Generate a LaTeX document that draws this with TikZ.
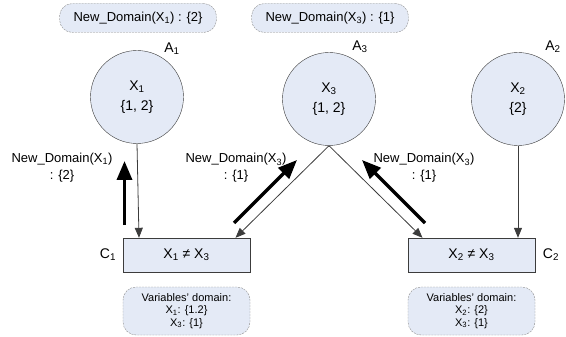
\documentclass[tikz,border=0pt]{standalone}
\usepackage{fontspec}
\setmainfont{Liberation Sans}
\usetikzlibrary{arrows.meta}

\definecolor{nodefill}{RGB}{228,234,246}
\definecolor{edgegray}{RGB}{60,60,60}
\definecolor{notegray}{RGB}{140,140,140}

\newcommand{\sbs}[1]{\textsubscript{#1}}
\newcommand{\fsz}[2]{\fontsize{#1}{#2}\selectfont}

\begin{document}
\begin{tikzpicture}[x=1pt,y=-1pt,
  varnode/.style={circle, draw=edgegray, fill=nodefill, minimum size=93pt,
    inner sep=0pt, align=center, font=\fsz{14}{20}},
  connode/.style={rectangle, draw=edgegray, fill=nodefill, minimum width=127pt,
    minimum height=34pt, inner sep=0pt, font=\fsz{14}{17}},
  topnote/.style={rectangle, rounded corners=13pt, draw=notegray,
    dash pattern=on 2pt off 1pt, fill=nodefill, minimum width=157pt,
    minimum height=29pt, inner sep=0pt, font=\fsz{13}{15}},
  domnote/.style={rectangle, rounded corners=13pt, draw=notegray,
    dash pattern=on 2pt off 1pt, fill=nodefill, minimum width=127pt,
    minimum height=48pt, inner sep=0pt, align=center, font=\fsz{11}{12.5}},
  plain/.style={inner sep=0pt, align=center, font=\fsz{13}{17}},
  tag/.style={inner sep=0pt, font=\fsz{14}{16}},
  thin/.style={draw=edgegray, line width=0.8pt,
    -{Triangle[length=10pt,width=8pt]}},
  thick/.style={draw=black, line width=3.5pt,
    -{Triangle[length=19pt,width=15pt]}}
]
\useasboundingbox (0,0) rectangle (566,337);

% messages at the top
\node[topnote] (m1) at (138,18) {New\_Domain(X\sbs{1}) : \{2\}};
\node[topnote] (m3) at (330,18) {New\_Domain(X\sbs{3}) : \{1\}};

% agents holding the variables
\node[varnode] (X1) at (137,97) {X\sbs{1}\\\{1, 2\}};
\node[varnode] (X3) at (329,99) {X\sbs{3}\\\{1, 2\}};
\node[varnode] (X2) at (518,99) {X\sbs{2}\\\{2\}};
\node[tag] (A1) at (172,49) {A\sbs{1}};
\node[tag] (A3) at (360,47) {A\sbs{3}};
\node[tag] (A2) at (553,47) {A\sbs{2}};

% constraints
\node[connode] (C1) at (186.5,255) {X\sbs{1} ≠ X\sbs{3}};
\node[connode] (C2) at (471.5,255) {X\sbs{2} ≠ X\sbs{3}};
\node[tag] (c1tag) at (108,255) {C\sbs{1}};
\node[tag] (c2tag) at (551,255) {C\sbs{2}};

% domains seen by each constraint
\node[domnote] (d1) at (186.5,311) {Variables' domain:\\X\sbs{1}: \{1.2\}\\X\sbs{3}: \{1\}};
\node[domnote] (d2) at (471.5,311) {Variables' domain:\\X\sbs{2}: \{2\}\\X\sbs{3}: \{1\}};

% variable -> constraint links
\draw[thin] (X1.south) -- ([xshift=-47.5pt]C1.north);
\draw[thin] (X3.south) -- ([xshift=49pt]C1.north);
\draw[thin] (X3.south) -- ([xshift=-49pt]C2.north);
\draw[thin] (X2.south) -- ([xshift=46.5pt]C2.north);

% constraint -> variable messages
\coordinate (p1a) at (124.5,225);
\coordinate (p1b) at (124.5,161);
\coordinate (p2a) at (234,223);
\coordinate (p2b) at (297,160);
\coordinate (p3a) at (425,223);
\coordinate (p3b) at (362,160);
\draw[thick] (p1a) -- (p1b);
\draw[thick] (p2a) -- (p2b);
\draw[thick] (p3a) -- (p3b);

\node[plain] (l1) at (62,168) {New\_Domain(X\sbs{1})\\: \{2\}};
\node[plain] (l2) at (236,168) {New\_Domain(X\sbs{3})\\: \{1\}};
\node[plain] (l3) at (424,168) {New\_Domain(X\sbs{3})\\: \{1\}};
\end{tikzpicture}
\end{document}
